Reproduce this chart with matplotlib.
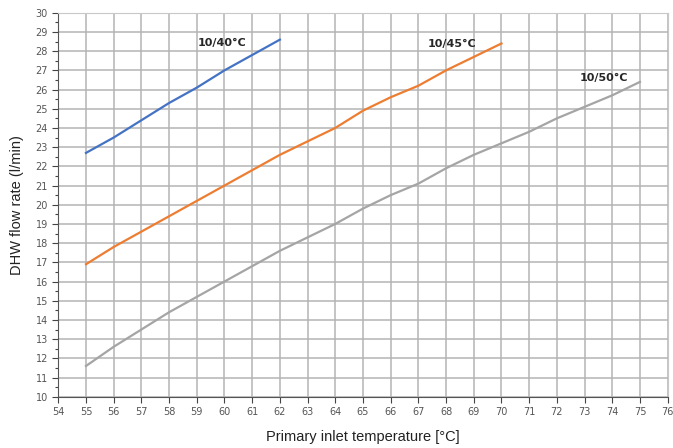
import matplotlib
matplotlib.use("Agg")
import matplotlib.pyplot as plt
from matplotlib.ticker import MultipleLocator

temps_40 = [55, 56, 57, 58, 59, 60, 61, 62]
flow_40 = [22.7, 23.5, 24.4, 25.3, 26.1, 27.0, 27.8, 28.6]

temps_45 = [55, 56, 57, 58, 59, 60, 61, 62, 63, 64, 65, 66, 67, 68, 69, 70]
flow_45 = [16.9, 17.8, 18.6, 19.4, 20.2, 21.0, 21.8, 22.6, 23.3, 24.0, 24.9, 25.6, 26.2, 27.0, 27.7, 28.4]

temps_50 = [55, 56, 57, 58, 59, 60, 61, 62, 63, 64, 65, 66, 67, 68, 69, 70, 71, 72, 73, 74, 75]
flow_50 = [11.6, 12.6, 13.5, 14.4, 15.2, 16.0, 16.8, 17.6, 18.3, 19.0, 19.8, 20.5, 21.1, 21.9, 22.6, 23.2, 23.8, 24.5, 25.1, 25.7, 26.4]

series_labels = ["10/40°C", "10/45°C", "10/50°C"]
label_x = [59.9, 68.2, 73.7]
label_y = [28.45, 28.35, 26.6]

fig = plt.figure(figsize=(6.73, 4.48), dpi=100)
ax = fig.add_axes([0.0866, 0.1145, 0.9055, 0.857])

ax.set_xlim(54, 76)
ax.set_ylim(10, 30)
ax.xaxis.set_major_locator(MultipleLocator(1))
ax.yaxis.set_major_locator(MultipleLocator(1))
ax.yaxis.set_minor_locator(MultipleLocator(0.5))
ax.grid(True, which="major", color="#b4b4b4", linewidth=1.1)
ax.set_axisbelow(True)

ax.plot(temps_40, flow_40, color="#4472C4", linewidth=1.6)
ax.plot(temps_45, flow_45, color="#ED7D31", linewidth=1.6)
ax.plot(temps_50, flow_50, color="#A5A5A5", linewidth=1.6)

for lab, lx, ly in zip(series_labels, label_x, label_y):
    ax.text(lx, ly, lab, ha="center", va="center", fontsize=8, fontweight="bold",
            color="#262626", family="DejaVu Sans")

for s in ["top", "right"]:
    ax.spines[s].set_color("#c8c8c8")
for s in ["left", "bottom"]:
    ax.spines[s].set_color("#555555")
ax.tick_params(axis="both", which="major", labelsize=7, colors="#444444", length=4, width=0.8)
ax.tick_params(axis="y", which="minor", length=2.5, width=0.8, color="#444444")
for t in ax.get_xticklabels() + ax.get_yticklabels():
    t.set_color("#555555")

ax.set_xlabel("Primary inlet temperature [°C]", fontsize=10.5, family="Liberation Sans", labelpad=9, color="#222222")
ax.set_ylabel("DHW flow rate (l/min)", fontsize=10.5, family="Liberation Sans", labelpad=8, color="#222222")

fig.savefig("out.png", dpi=100)
